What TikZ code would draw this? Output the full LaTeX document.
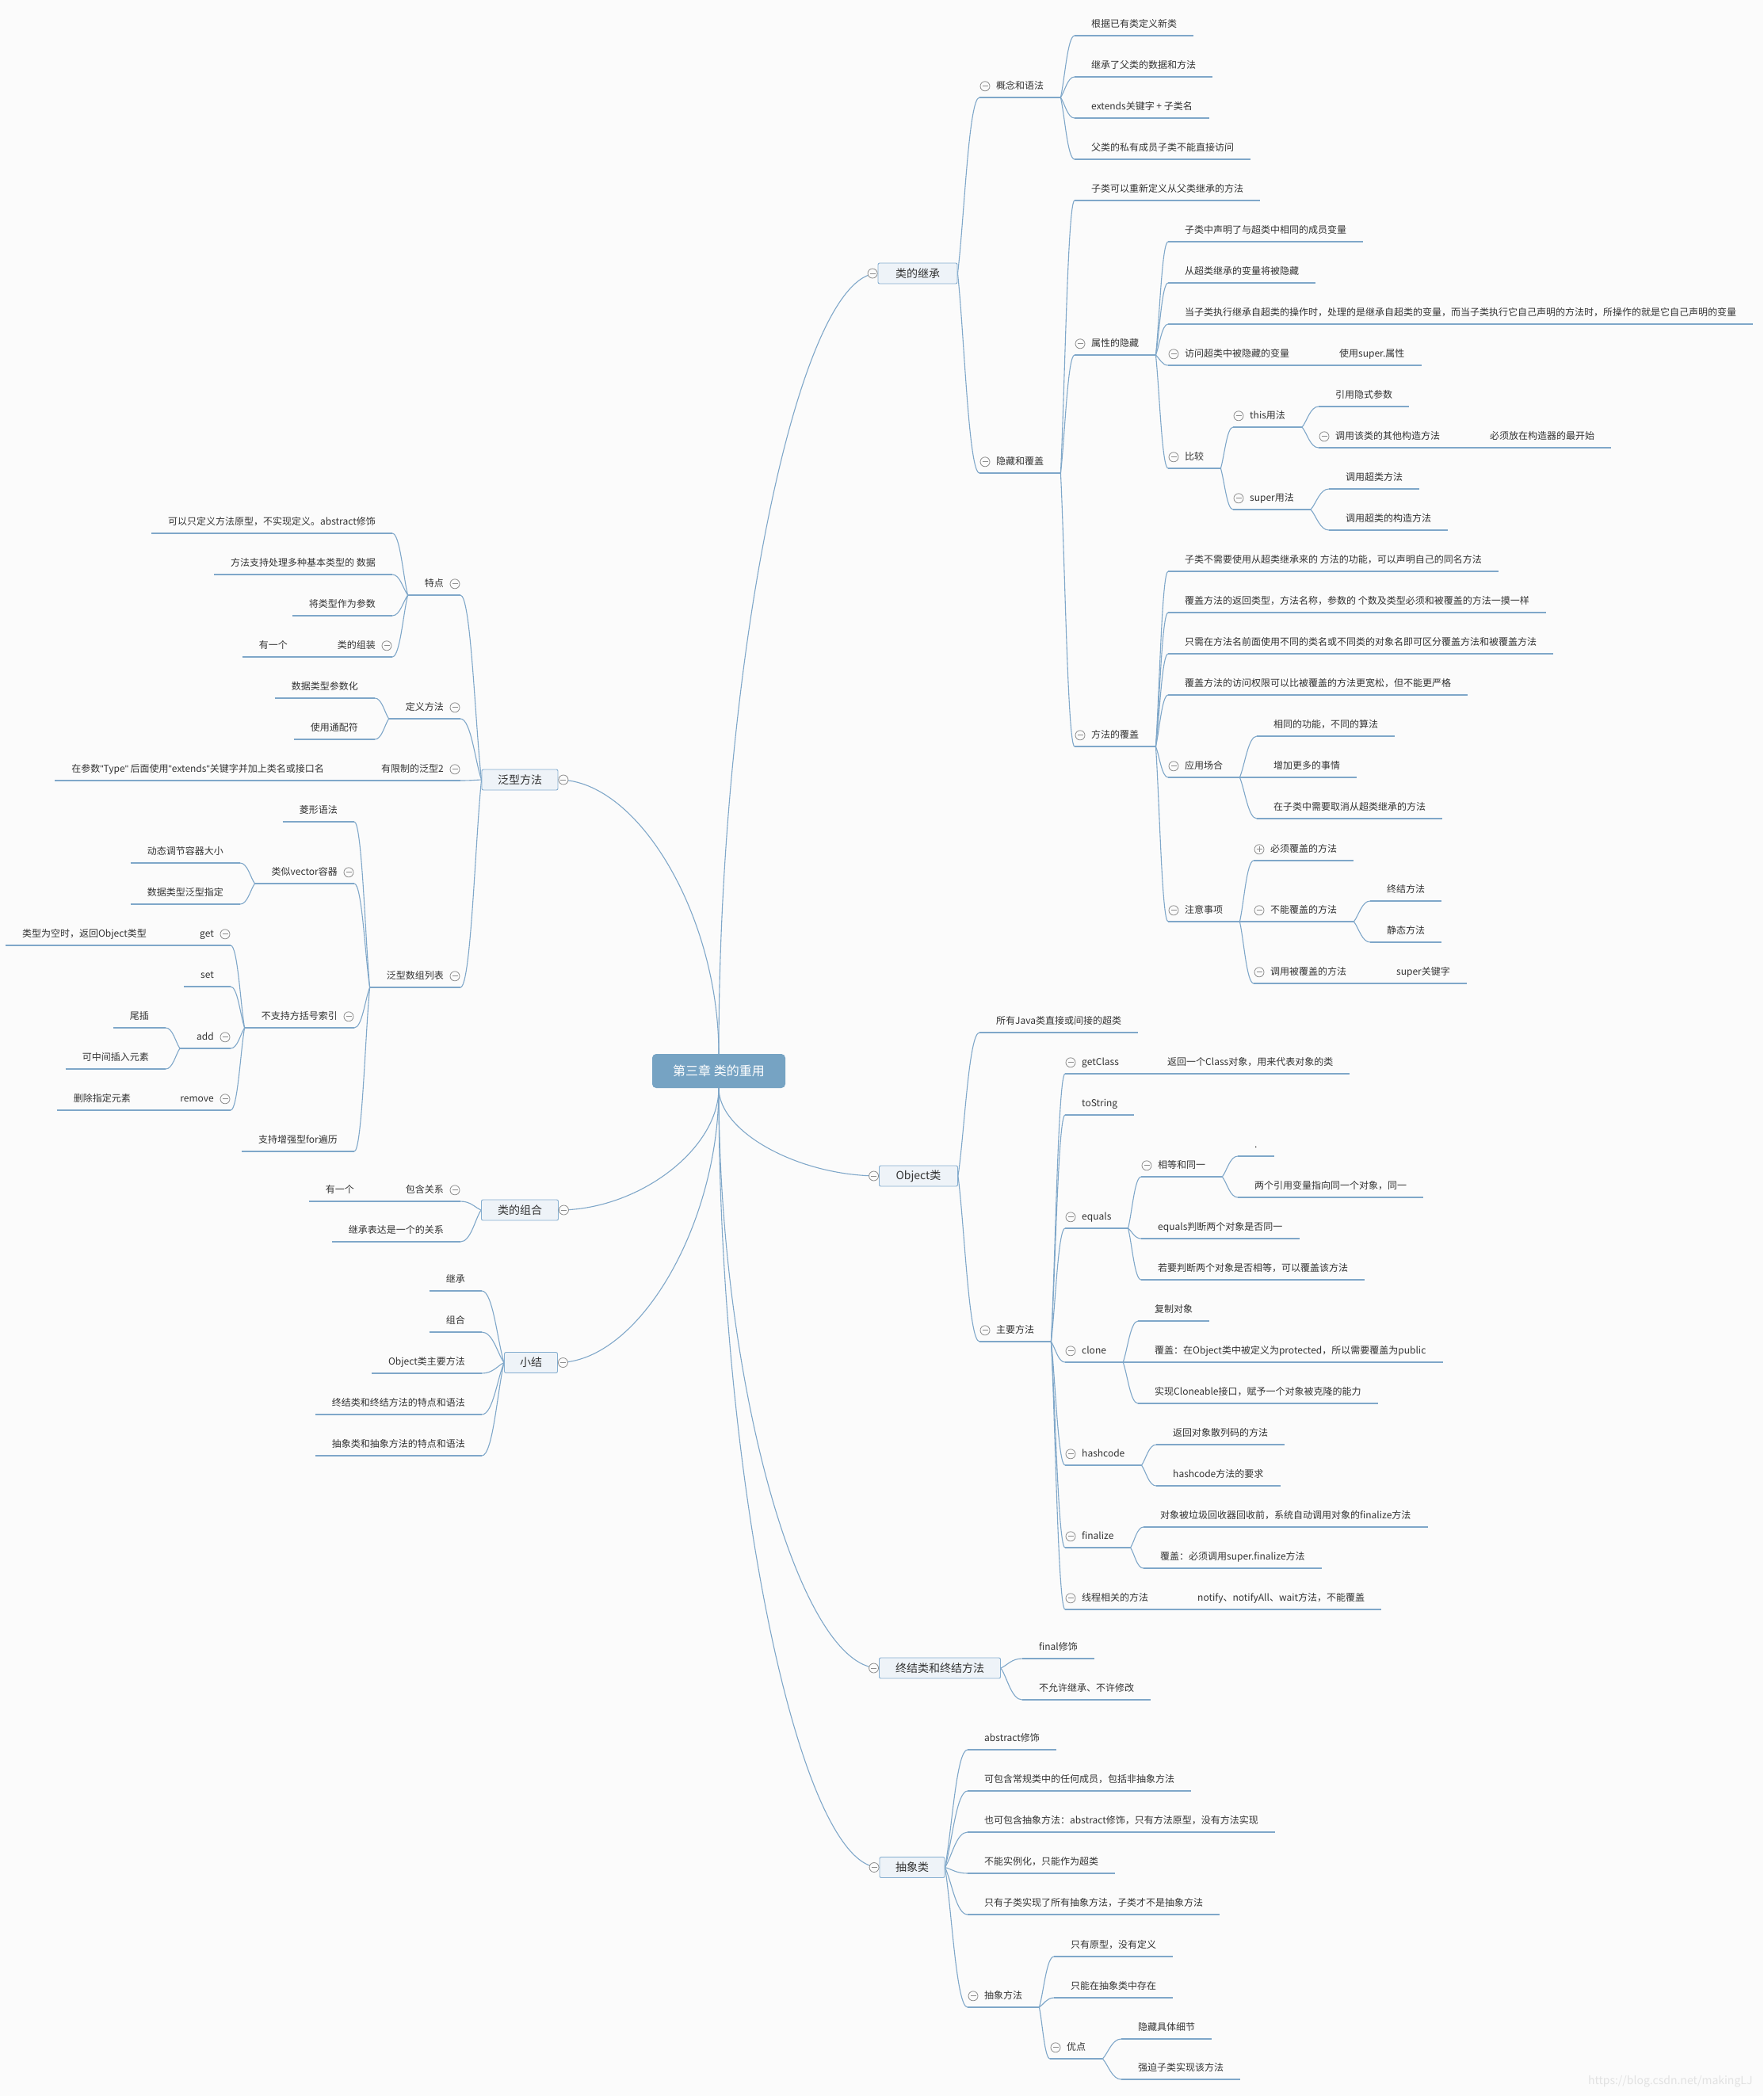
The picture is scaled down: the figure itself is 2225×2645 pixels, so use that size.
\documentclass[tikz,border=0pt]{standalone}
\usepackage{fontspec}
\setmainfont{Noto Sans CJK SC}
\newfontfamily\quotefont{Liberation Sans}
\newcommand{\asciq}{{\quotefont\symbol{34}}}
\usepackage{tikz}
\usetikzlibrary{calc,backgrounds}
\definecolor{wirecol}{HTML}{7FA7C9}
\definecolor{boxfill}{HTML}{EEF3F8}
\definecolor{boxline}{HTML}{85AED0}
\definecolor{rootfill}{HTML}{76A3C3}
\definecolor{bgcol}{HTML}{FBFBFB}
\definecolor{inkcol}{HTML}{333333}
\definecolor{markcol}{HTML}{8C8C8C}
\definecolor{wmcol}{HTML}{E2E2E2}

\begin{document}
\begin{tikzpicture}[x=1pt,y=-1pt,
    wire/.style={draw=wirecol,line width=1.1pt},
    branch/.style={to path={.. controls ($(\tikztostart)!0.3!(\tikztotarget)$) and ($(\tikztostart|-\tikztotarget)!0.5!(\tikztotarget)$) .. (\tikztotarget)}},
    trunk/.style={to path={.. controls ($(\tikztostart)!0.5!(\tikztostart|-\tikztotarget)$) and ($(\tikztostart|-\tikztotarget)!0.5!(\tikztotarget)$) .. (\tikztotarget)}},
    leaf/.style={font=\fontsize{12pt}{14pt}\selectfont,text=inkcol,inner xsep=21pt,inner ysep=7pt,text height=11pt,text depth=3pt,
      append after command={(\tikzlastnode.south west) edge[wire] (\tikzlastnode.south east)}},
    rleaf/.style={leaf,anchor=south west},
    lleaf/.style={leaf,anchor=south east},
    foldmark/.style={circle,draw=markcol,fill=bgcol,line width=0.8pt,minimum size=12pt,inner sep=0pt,
      path picture={\draw[markcol,line width=0.8pt] ([xshift=-3.5pt]path picture bounding box.center) -- ([xshift=3.5pt]path picture bounding box.center);}},
    openmark/.style={circle,draw=markcol,fill=bgcol,line width=0.8pt,minimum size=12pt,inner sep=0pt,
      path picture={\draw[markcol,line width=0.8pt] ([xshift=-3.5pt]path picture bounding box.center) -- ([xshift=3.5pt]path picture bounding box.center)
        ([yshift=-3.5pt]path picture bounding box.center) -- ([yshift=3.5pt]path picture bounding box.center);}},
    rfold/.style={append after command={([xshift=7pt]\tikzlastnode.west) node[foldmark]{}}},
    ropen/.style={append after command={([xshift=7pt]\tikzlastnode.west) node[openmark]{}}},
    lfold/.style={append after command={([xshift=-7pt]\tikzlastnode.east) node[foldmark]{}}},
    topic/.style={draw=boxline,fill=boxfill,line width=0.9pt,rounded corners=2pt,text=inkcol,
      font=\fontsize{14pt}{16pt}\selectfont,minimum height=26pt,inner sep=1pt},
    rbox/.style={topic,append after command={([xshift=-6.5pt]\tikzlastnode.west) node[foldmark]{}}},
    lbox/.style={topic,append after command={([xshift=6.5pt]\tikzlastnode.east) node[foldmark]{}}},
    root/.style={fill=rootfill,text=white,rounded corners=5pt,font=\fontsize{16pt}{18pt}\selectfont,
      minimum width=168pt,minimum height=43pt,inner sep=0pt}]

  \useasboundingbox (0,0) rectangle (2225,2645);
  \begin{scope}[on background layer]
    \fill[bgcol] (0,0) rectangle (2225,2645);
  \end{scope}

  \node[root] (root) at (907,1351.5) {第三章 类的重用};

  % main topics
  \node[rbox,minimum width=100pt] (jicheng) at (1158,345) {类的继承};
  \node[rbox,minimum width=99pt] (object) at (1159,1484) {Object类};
  \node[rbox,minimum width=153pt] (zhongjie) at (1186,2105) {终结类和终结方法};
  \node[rbox,minimum width=82pt] (chouxiang) at (1151,2356.5) {抽象类};
  \node[lbox,minimum width=96pt] (fanxing) at (656,984) {泛型方法};
  \node[lbox,minimum width=97pt] (zuhe) at (656,1527) {类的组合};
  \node[lbox,minimum width=67pt] (xiaojie) at (670,1719.5) {小结};

  % 类的继承
  \node[rleaf,rfold] (gainian) at (1236,123) {概念和语法};
  \node[rleaf] (gn1) at (1356,45) {根据已有类定义新类};
  \node[rleaf] (gn2) at (1356,97) {继承了父类的数据和方法};
  \node[rleaf] (gn3) at (1356,149) {extends关键字 + 子类名};
  \node[rleaf] (gn4) at (1356,201) {父类的私有成员子类不能直接访问};
  \node[rleaf,rfold] (yincang) at (1236,597) {隐藏和覆盖};
  \node[rleaf] (yc1) at (1356,253) {子类可以重新定义从父类继承的方法};
  \node[rleaf,rfold] (shuxing) at (1356,448) {属性的隐藏};
  \node[rleaf] (sx1) at (1474,305) {子类中声明了与超类中相同的成员变量};
  \node[rleaf] (sx2) at (1474,357) {从超类继承的变量将被隐藏};
  \node[rleaf] (sx3) at (1474,409) {当子类执行继承自超类的操作时，处理的是继承自超类的变量，而当子类执行它自己声明的方法时，所操作的就是它自己声明的变量};
  \node[rleaf,rfold] (fangwen) at (1474,461) {访问超类中被隐藏的变量};
  \node[rleaf] (fw1) at (1669,461) {使用super.属性};
  \node[rleaf,rfold] (bijiao) at (1474,591) {比较};
  \node[rleaf,rfold] (thisyf) at (1556,539) {this用法};
  \node[rleaf] (ty1) at (1664,513) {引用隐式参数};
  \node[rleaf,rfold] (diaogou) at (1664,565) {调用该类的其他构造方法};
  \node[rleaf] (dg1) at (1859,565) {必须放在构造器的最开始};
  \node[rleaf,rfold] (superyf) at (1556,643) {super用法};
  \node[rleaf] (sy1) at (1677,617) {调用超类方法};
  \node[rleaf] (sy2) at (1677,669) {调用超类的构造方法};
  \node[rleaf,rfold] (fugai) at (1356,942) {方法的覆盖};
  \node[rleaf] (fg1) at (1474,721) {子类不需要使用从超类继承来的 方法的功能，可以声明自己的同名方法};
  \node[rleaf] (fg2) at (1474,773) {覆盖方法的返回类型，方法名称，参数的 个数及类型必须和被覆盖的方法一摸一样};
  \node[rleaf] (fg3) at (1474,825) {只需在方法名前面使用不同的类名或不同类的对象名即可区分覆盖方法和被覆盖方法};
  \node[rleaf] (fg4) at (1474,877) {覆盖方法的访问权限可以比被覆盖的方法更宽松，但不能更严格};
  \node[rleaf,rfold] (changhe) at (1474,981) {应用场合};
  \node[rleaf] (ch1) at (1586,929) {相同的功能，不同的算法};
  \node[rleaf] (ch2) at (1586,981) {增加更多的事情};
  \node[rleaf] (ch3) at (1586,1033) {在子类中需要取消从超类继承的方法};
  \node[rleaf,rfold] (zhuyi) at (1474,1163) {注意事项};
  \node[rleaf,ropen] (bixu) at (1582,1086) {必须覆盖的方法};
  \node[rleaf,rfold] (buneng) at (1582,1163) {不能覆盖的方法};
  \node[rleaf] (bn1) at (1729,1137) {终结方法};
  \node[rleaf] (bn2) at (1729,1189) {静态方法};
  \node[rleaf,rfold] (diaoyong) at (1582,1241) {调用被覆盖的方法};
  \node[rleaf] (dyg1) at (1741,1241) {super关键字};

  % Object类
  \node[rleaf] (ob1) at (1236,1303) {所有Java类直接或间接的超类};
  \node[rleaf,rfold] (zhuyao) at (1236,1693) {主要方法};
  \node[rleaf,rfold] (getclass) at (1344,1355) {getClass};
  \node[rleaf] (gc1) at (1452,1355) {返回一个Class对象，用来代表对象的类};
  \node[rleaf] (tostring) at (1344,1407) {toString};
  \node[rleaf,rfold] (equals) at (1344,1550) {equals};
  \node[rleaf,rfold] (xiangdeng) at (1440,1485) {相等和同一};
  \node[rleaf] (xd1) at (1562,1459) {.};
  \node[rleaf] (xd2) at (1562,1511) {两个引用变量指向同一个对象，同一};
  \node[rleaf] (eq2) at (1440,1563) {equals判断两个对象是否同一};
  \node[rleaf] (eq3) at (1440,1615) {若要判断两个对象是否相等，可以覆盖该方法};
  \node[rleaf,rfold] (clone) at (1344,1719) {clone};
  \node[rleaf] (cl1) at (1436,1667) {复制对象};
  \node[rleaf] (cl2) at (1436,1719) {覆盖：在Object类中被定义为protected，所以需要覆盖为public};
  \node[rleaf] (cl3) at (1436,1771) {实现Cloneable接口，赋予一个对象被克隆的能力};
  \node[rleaf,rfold] (hashcode) at (1344,1849) {hashcode};
  \node[rleaf] (hc1) at (1459,1823) {返回对象散列码的方法};
  \node[rleaf] (hc2) at (1459,1875) {hashcode方法的要求};
  \node[rleaf,rfold] (finalize) at (1344,1953) {finalize};
  \node[rleaf] (fn1) at (1443,1927) {对象被垃圾回收器回收前，系统自动调用对象的finalize方法};
  \node[rleaf] (fn2) at (1443,1979) {覆盖：必须调用super.finalize方法};
  \node[rleaf,rfold] (xiancheng) at (1344,2031) {线程相关的方法};
  \node[rleaf] (xc1) at (1490,2031) {notify、notifyAll、wait方法，不能覆盖};

  % 终结类和终结方法
  \node[rleaf] (zj1) at (1290,2093) {final修饰};
  \node[rleaf] (zj2) at (1290,2145) {不允许继承、不许修改};

  % 抽象类
  \node[rleaf] (cx1) at (1221,2208) {abstract修饰};
  \node[rleaf] (cx2) at (1221,2260) {可包含常规类中的任何成员，包括非抽象方法};
  \node[rleaf] (cx3) at (1221,2312) {也可包含抽象方法：abstract修饰，只有方法原型，没有方法实现};
  \node[rleaf] (cx4) at (1221,2364) {不能实例化，只能作为超类};
  \node[rleaf] (cx5) at (1221,2416) {只有子类实现了所有抽象方法，子类才不是抽象方法};
  \node[rleaf,rfold] (cxff) at (1221,2533) {抽象方法};
  \node[rleaf] (cf1) at (1330,2469) {只有原型，没有定义};
  \node[rleaf] (cf2) at (1330,2521) {只能在抽象类中存在};
  \node[rleaf,rfold] (youdian) at (1325,2598) {优点};
  \node[rleaf] (yd1) at (1415,2573) {隐藏具体细节};
  \node[rleaf] (yd2) at (1415,2624) {强迫子类实现该方法};

  % 泛型方法
  \node[lleaf,lfold] (tedian) at (581,751) {特点};
  \node[lleaf] (td1) at (495,673) {可以只定义方法原型，不实现定义。abstract修饰};
  \node[lleaf] (td2) at (495,725) {方法支持处理多种基本类型的 数据};
  \node[lleaf] (td3) at (495,777) {将类型作为参数};
  \node[lleaf,lfold] (zuzhuang) at (495,829) {类的组装};
  \node[lleaf] (zz1) at (384,829) {有一个};
  \node[lleaf,lfold] (dingyi) at (581,907) {定义方法};
  \node[lleaf] (df1) at (473,881) {数据类型参数化};
  \node[lleaf] (df2) at (473,933) {使用通配符};
  \node[lleaf,lfold] (youxian) at (581,985) {有限制的泛型2};
  \node[lleaf] (yx1) at (430,985) {在参数\asciq Type\asciq{} 后面使用\asciq extends\asciq 关键字并加上类名或接口名};
  \node[lleaf,lfold] (shuzu) at (581,1246) {泛型数组列表};
  \node[lleaf] (sz1) at (447,1037) {菱形语法};
  \node[lleaf,lfold] (vector) at (447,1115) {类似vector容器};
  \node[lleaf] (vc1) at (303,1089) {动态调节容器大小};
  \node[lleaf] (vc2) at (303,1141) {数据类型泛型指定};
  \node[lleaf,lfold] (fangkuo) at (447,1297) {不支持方括号索引};
  \node[lleaf,lfold] (get) at (291,1193) {get};
  \node[lleaf] (gt1) at (206,1193) {类型为空时，返回Object类型};
  \node[lleaf] (set) at (291,1245) {set};
  \node[lleaf,lfold] (add) at (291,1323) {add};
  \node[lleaf] (ad1) at (209,1297) {尾插};
  \node[lleaf] (ad2) at (209,1349) {可中间插入元素};
  \node[lleaf,lfold] (remove) at (291,1401) {remove};
  \node[lleaf] (rm1) at (186,1401) {删除指定元素};
  \node[lleaf] (sz4) at (447,1453) {支持增强型for遍历};

  % 类的组合
  \node[lleaf,lfold] (baohan) at (581,1516) {包含关系};
  \node[lleaf] (bh1) at (468,1516) {有一个};
  \node[lleaf] (zh2) at (581,1567) {继承表达是一个的关系};

  % 小结
  \node[lleaf] (xj1) at (608,1629) {继承};
  \node[lleaf] (xj2) at (608,1681) {组合};
  \node[lleaf] (xj3) at (608,1733) {Object类主要方法};
  \node[lleaf] (xj4) at (608,1785) {终结类和终结方法的特点和语法};
  \node[lleaf] (xj5) at (608,1837) {抽象类和抽象方法的特点和语法};

  \node[font=\fontsize{14pt}{16pt}\selectfont,text=wmcol,anchor=east] (wm) at (2215,2627) {https://blog.csdn.net/makingLJ};

  \begin{scope}[on background layer]
    \draw[wire] (root.north) edge[trunk] (jicheng.west) edge[trunk] (fanxing.east);
    \draw[wire] (root.south) edge[trunk] (object.west) edge[trunk] (zhongjie.west) edge[trunk] (chouxiang.west)
      edge[trunk] (zuhe.east) edge[trunk] (xiaojie.east);

    \draw[wire] (jicheng.east) edge[branch] (gainian.south west) edge[branch] (yincang.south west);
    \draw[wire] (gainian.south east) edge[branch] (gn1.south west) edge[branch] (gn2.south west)
      edge[branch] (gn3.south west) edge[branch] (gn4.south west);
    \draw[wire] (yincang.south east) edge[branch] (yc1.south west) edge[branch] (shuxing.south west) edge[branch] (fugai.south west);
    \draw[wire] (shuxing.south east) edge[branch] (sx1.south west) edge[branch] (sx2.south west) edge[branch] (sx3.south west)
      edge[branch] (fangwen.south west) edge[branch] (bijiao.south west);
    \draw[wire] (fangwen.south east) -- (fw1.south west);
    \draw[wire] (bijiao.south east) edge[branch] (thisyf.south west) edge[branch] (superyf.south west);
    \draw[wire] (thisyf.south east) edge[branch] (ty1.south west) edge[branch] (diaogou.south west);
    \draw[wire] (diaogou.south east) -- (dg1.south west);
    \draw[wire] (superyf.south east) edge[branch] (sy1.south west) edge[branch] (sy2.south west);
    \draw[wire] (fugai.south east) edge[branch] (fg1.south west) edge[branch] (fg2.south west) edge[branch] (fg3.south west)
      edge[branch] (fg4.south west) edge[branch] (changhe.south west) edge[branch] (zhuyi.south west);
    \draw[wire] (changhe.south east) edge[branch] (ch1.south west) edge[branch] (ch2.south west) edge[branch] (ch3.south west);
    \draw[wire] (zhuyi.south east) edge[branch] (bixu.south west) edge[branch] (buneng.south west) edge[branch] (diaoyong.south west);
    \draw[wire] (buneng.south east) edge[branch] (bn1.south west) edge[branch] (bn2.south west);
    \draw[wire] (diaoyong.south east) -- (dyg1.south west);

    \draw[wire] (object.east) edge[branch] (ob1.south west) edge[branch] (zhuyao.south west);
    \draw[wire] (zhuyao.south east) edge[branch] (getclass.south west) edge[branch] (tostring.south west)
      edge[branch] (equals.south west) edge[branch] (clone.south west) edge[branch] (hashcode.south west)
      edge[branch] (finalize.south west) edge[branch] (xiancheng.south west);
    \draw[wire] (getclass.south east) -- (gc1.south west);
    \draw[wire] (equals.south east) edge[branch] (xiangdeng.south west) edge[branch] (eq2.south west) edge[branch] (eq3.south west);
    \draw[wire] (xiangdeng.south east) edge[branch] (xd1.south west) edge[branch] (xd2.south west);
    \draw[wire] (clone.south east) edge[branch] (cl1.south west) edge[branch] (cl2.south west) edge[branch] (cl3.south west);
    \draw[wire] (hashcode.south east) edge[branch] (hc1.south west) edge[branch] (hc2.south west);
    \draw[wire] (finalize.south east) edge[branch] (fn1.south west) edge[branch] (fn2.south west);
    \draw[wire] (xiancheng.south east) -- (xc1.south west);

    \draw[wire] (zhongjie.east) edge[branch] (zj1.south west) edge[branch] (zj2.south west);
    \draw[wire] (chouxiang.east) edge[branch] (cx1.south west) edge[branch] (cx2.south west) edge[branch] (cx3.south west)
      edge[branch] (cx4.south west) edge[branch] (cx5.south west) edge[branch] (cxff.south west);
    \draw[wire] (cxff.south east) edge[branch] (cf1.south west) edge[branch] (cf2.south west) edge[branch] (youdian.south west);
    \draw[wire] (youdian.south east) edge[branch] (yd1.south west) edge[branch] (yd2.south west);

    \draw[wire] (fanxing.west) edge[branch] (tedian.south east) edge[branch] (dingyi.south east)
      edge[branch] (youxian.south east) edge[branch] (shuzu.south east);
    \draw[wire] (tedian.south west) edge[branch] (td1.south east) edge[branch] (td2.south east)
      edge[branch] (td3.south east) edge[branch] (zuzhuang.south east);
    \draw[wire] (zuzhuang.south west) -- (zz1.south east);
    \draw[wire] (dingyi.south west) edge[branch] (df1.south east) edge[branch] (df2.south east);
    \draw[wire] (youxian.south west) -- (yx1.south east);
    \draw[wire] (shuzu.south west) edge[branch] (sz1.south east) edge[branch] (vector.south east)
      edge[branch] (fangkuo.south east) edge[branch] (sz4.south east);
    \draw[wire] (vector.south west) edge[branch] (vc1.south east) edge[branch] (vc2.south east);
    \draw[wire] (fangkuo.south west) edge[branch] (get.south east) edge[branch] (set.south east)
      edge[branch] (add.south east) edge[branch] (remove.south east);
    \draw[wire] (get.south west) -- (gt1.south east);
    \draw[wire] (add.south west) edge[branch] (ad1.south east) edge[branch] (ad2.south east);
    \draw[wire] (remove.south west) -- (rm1.south east);

    \draw[wire] (zuhe.west) edge[branch] (baohan.south east) edge[branch] (zh2.south east);
    \draw[wire] (baohan.south west) -- (bh1.south east);
    \draw[wire] (xiaojie.west) edge[branch] (xj1.south east) edge[branch] (xj2.south east) edge[branch] (xj3.south east)
      edge[branch] (xj4.south east) edge[branch] (xj5.south east);
  \end{scope}
\end{tikzpicture}
\end{document}
